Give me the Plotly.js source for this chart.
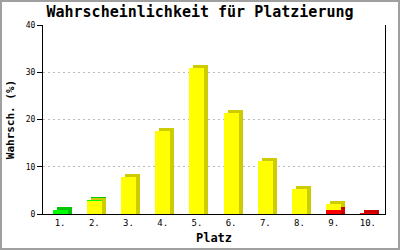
<!DOCTYPE html>
<html><head><meta charset="utf-8">
<script src="https://cdn.plot.ly/plotly-3.0.1.min.js"></script>
<style>
html,body{margin:0;padding:0;background:#fff;}
#wrap{width:400px;height:250px;box-sizing:border-box;border:2px solid #a0a0a0;position:relative;overflow:hidden;}
#chart{position:absolute;left:-2px;top:-2px;width:400px;height:250px;}
</style></head>
<body><div id="wrap"><div id="chart"></div></div>
<script>
const categories = ["1.","2.","3.","4.","5.","6.","7.","8.","9.","10."];
const redVals    = [0, 0, 0, 0, 0, 0, 0, 0, 0.85, 0.3];
const yellowVals = [0, 2.7, 7.8, 17.6, 30.9, 21.4, 11.3, 5.3, 1.25, 0];
const greenVals  = [0.85, 0.3, 0, 0, 0, 0, 0, 0, 0, 0];

const frontColors = {red:"#ff0000", yellow:"#ffff00", green:"#00ff00"};
const darkColors  = {red:"#cc0000", yellow:"#cccc00", green:"#00c800"};

const depthY = 0.65;   // 3D depth in value units
const depthX = 0.117;  // 3D depth in category units
const barW = 0.44;

// shadow series: whole stack lifted by depth (extend bottom-most segment)
const series = [["red",redVals],["yellow",yellowVals],["green",greenVals]];
const shadow = series.map(([n,v]) => v.slice());
for (let i=0;i<categories.length;i++){
  for (let s=0;s<series.length;s++){
    if (series[s][1][i] > 0){ shadow[s][i] += depthY; break; }
  }
}

const traces = [];
series.forEach(([n,v],s) => {
  traces.push({type:"bar", x:categories, y:shadow[s], xaxis:"x", yaxis:"y",
    width:barW, offset:-barW/2+depthX, marker:{color:darkColors[n], line:{width:0}},
    hoverinfo:"skip", showlegend:false});
});
series.forEach(([n,v]) => {
  traces.push({type:"bar", x:categories, y:v, xaxis:"x2", yaxis:"y",
    width:barW, marker:{color:frontColors[n], line:{width:0}},
    hoverinfo:"skip", showlegend:false});
});

const mono = "DejaVu Sans Mono, Liberation Mono, monospace";
const layout = {
  width:400, height:250,
  margin:{l:43, r:15, t:25, b:36},
  paper_bgcolor:"#fff", plot_bgcolor:"#fff",
  barmode:"stack", bargap:0.56,
  showlegend:false,
  title:{text:"<b>Wahrscheinlichkeit für Platzierung</b>", font:{family:mono, size:15, color:"#000"},
         x:0.5, xanchor:"center", y:0.955, yanchor:"middle"},
  xaxis:{type:"category", range:[-0.5,9.5], showline:true, linecolor:"#000", linewidth:1,
         ticks:"", showgrid:false, zeroline:false,
         tickfont:{family:mono, size:9, color:"#000"},
         title:{text:"<b>Platz</b>", font:{family:mono, size:12, color:"#000"}, standoff:6}},
  xaxis2:{type:"category", range:[-0.5,9.5], overlaying:"x", visible:false},
  yaxis:{range:[0,40], tickvals:[0,10,20,30,40], showline:true, mirror:true, linecolor:"#000", linewidth:1,
         ticks:"outside", ticklen:5, tickcolor:"#000",
         showgrid:true, gridcolor:"#bbbbbb", griddash:"2px,3px", zeroline:false,
         tickfont:{family:mono, size:8, color:"#000"},
         title:{text:"<b>Wahrsch. (%)</b>", font:{family:mono, size:11, color:"#000"}, standoff:8}}
};
Plotly.newPlot("chart", traces, layout, {staticPlot:true, displayModeBar:false});
</script></body></html>
